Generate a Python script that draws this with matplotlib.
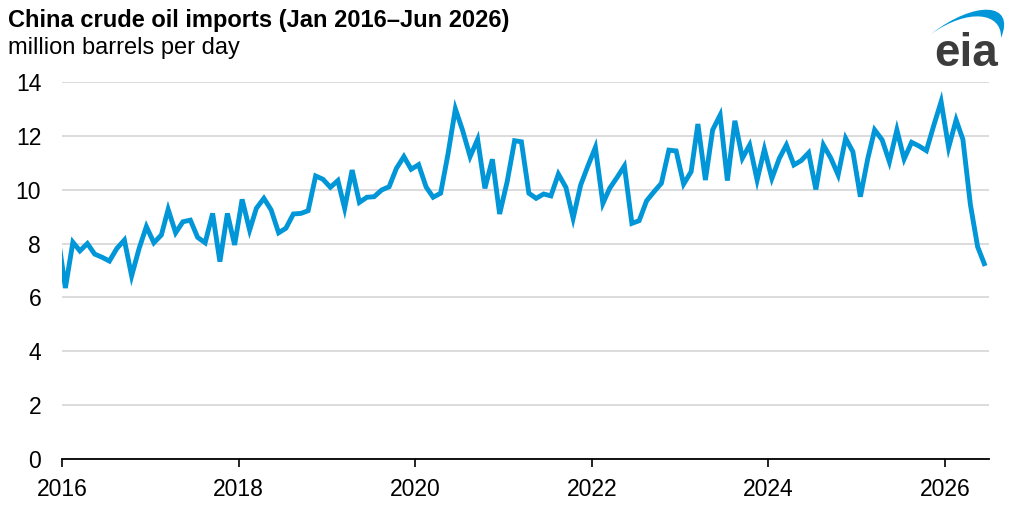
import matplotlib
matplotlib.use("Agg")
import matplotlib.pyplot as plt
import matplotlib.dates as mdates
from matplotlib.path import Path
from matplotlib.patches import PathPatch
import pandas as pd
import datetime as dt

plt.rcParams['font.family'] = ['Liberation Sans', 'DejaVu Sans']

# Monthly data (Dec 2015 is clipped at the left edge of the axis)
start_month = "2015-12-01"
imports_mbd = [
    8.3,
    6.35, 8.05, 7.73, 8.0, 7.61, 7.49, 7.35, 7.82, 8.13, 6.8, 7.82, 8.63,
    8.03, 8.32, 9.27, 8.4, 8.81, 8.87, 8.23, 8.03, 9.12, 7.33, 9.12, 7.95,
    9.64, 8.5, 9.31, 9.68, 9.25, 8.4, 8.57, 9.1, 9.12, 9.22, 10.51, 10.39,
    10.09, 10.34, 9.31, 10.73, 9.53, 9.72, 9.74, 9.99, 10.11, 10.79, 11.23, 10.76,
    10.93, 10.1, 9.72, 9.87, 11.3, 13.0, 12.2, 11.23, 11.87, 10.05, 11.13, 9.1,
    10.29, 11.82, 11.78, 9.87, 9.68, 9.84, 9.77, 10.58, 10.09, 8.94, 10.17, 10.88,
    11.57, 9.49, 10.05, 10.46, 10.88, 8.75, 8.85, 9.59, 9.93, 10.24, 11.47, 11.44,
    10.21, 10.67, 12.44, 10.36, 12.22, 12.77, 10.34, 12.56, 11.17, 11.66, 10.36, 11.5,
    10.42, 11.17, 11.66, 10.92, 11.08, 11.37, 10.01, 11.66, 11.17, 10.55, 11.91, 11.41,
    9.74, 11.17, 12.22, 11.85, 11.04, 12.22, 11.14, 11.76, 11.62, 11.45, 12.4, 13.27,
    11.57, 12.59, 11.87, 9.45, 7.88, 7.17,
]
year_ticks = [2016, 2018, 2020, 2022, 2024, 2026]
y_ticks = [0, 2, 4, 6, 8, 10, 12, 14]

title = "China crude oil imports (Jan 2016\u2013Jun 2026)"
subtitle = "million barrels per day"

dates = pd.date_range(start_month, periods=len(imports_mbd), freq="MS") + pd.Timedelta(days=14)

W, H = 1022, 515
fig = plt.figure(figsize=(W / 100, H / 100), dpi=100)
ax = fig.add_axes([62 / W, 1 - 459 / H, (989 - 62) / W, (459 - 82) / H])

ax.plot(dates, imports_mbd, color="#0096d7", lw=3.5, solid_joinstyle="miter",
        solid_capstyle="butt", zorder=3, clip_on=True)

ax.set_xlim(dt.datetime(2016, 1, 1), dt.datetime(2026, 7, 1))
ax.set_ylim(0, 14)
ax.set_yticks(y_ticks)
ax.set_xticks([dt.datetime(y, 1, 1) for y in year_ticks])
ax.xaxis.set_major_formatter(mdates.DateFormatter("%Y"))

ax.grid(axis="y", color="#d9d9d9", lw=1.3, zorder=0)
ax.grid(axis="x", visible=False)
for s in ["top", "right", "left"]:
    ax.spines[s].set_visible(False)
ax.spines["bottom"].set_color("black")
ax.spines["bottom"].set_linewidth(1.3)
ax.spines["bottom"].set_zorder(4)
ax.tick_params(axis="y", length=0, pad=15, labelsize=16.5, labelcolor="black")
ax.tick_params(axis="x", direction="out", length=6, width=1.2, color="black",
               pad=8, labelsize=16.5, labelcolor="black")
for lab in ax.get_yticklabels():
    lab.set_horizontalalignment("right")

fig.text(8 / W, 1 - 21 / H, title, fontsize=17, fontweight="bold",
         ha="left", va="center", color="black")
fig.text(8 / W, 1 - 48 / H, subtitle, fontsize=17, ha="left", va="center",
         color="black")

# EIA logo
def P(x, y):
    return (x / W, 1 - y / H)

verts = [P(931, 34), P(975, 0), P(1016, 2), P(1001, 38),
         P(1002, 12), P(968, 8), P(931, 34), P(931, 34)]
codes = [Path.MOVETO, Path.CURVE4, Path.CURVE4, Path.CURVE4,
         Path.CURVE4, Path.CURVE4, Path.CURVE4, Path.CLOSEPOLY]
fig.patches.append(PathPatch(Path(verts, codes), transform=fig.transFigure,
                             facecolor="#0096d7", edgecolor="none"))
fig.text(966 / W, 1 - 54 / H, "eia", fontsize=33, fontweight="bold",
         color="#3c3c3c", ha="center", va="center")

fig.savefig("out.png", dpi=100)
